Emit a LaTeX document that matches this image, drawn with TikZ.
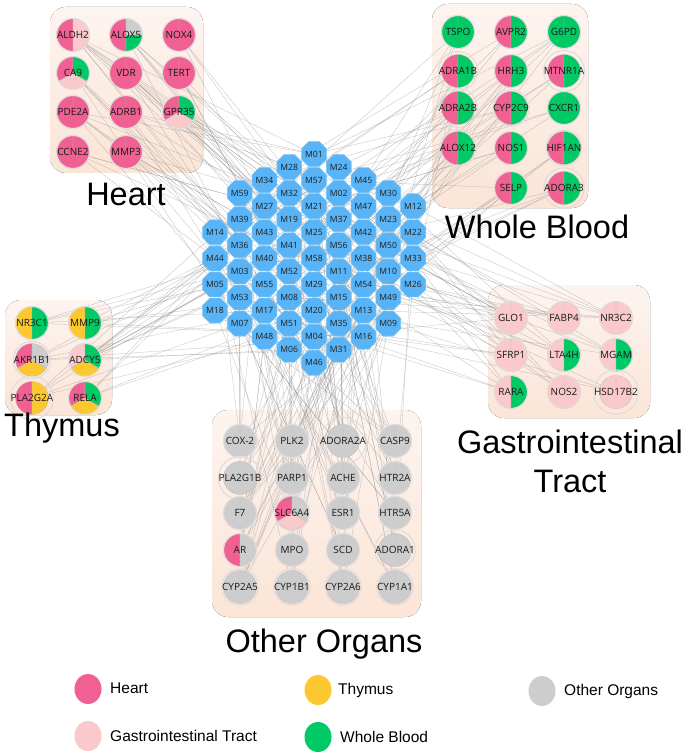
\documentclass[tikz,border=0pt]{standalone}
\usepackage{fontspec}
\setmainfont{Liberation Sans}
\newfontfamily\osans{Open Sans}
\usetikzlibrary{shapes.geometric}
\definecolor{hc}{RGB}{240,96,146}
\definecolor{gc}{RGB}{249,201,204}
\definecolor{tc}{RGB}{253,200,47}
\definecolor{wc}{RGB}{0,201,101}
\definecolor{oc}{RGB}{205,205,205}
\definecolor{mfill}{RGB}{88,180,246}
\definecolor{mdraw}{RGB}{120,195,245}
\definecolor{ringc}{RGB}{226,220,220}
\definecolor{slicec}{RGB}{190,185,185}
\definecolor{edgec}{RGB}{140,140,140}
\definecolor{ptop}{RGB}{253,244,240}
\definecolor{pbot}{RGB}{251,229,214}
\pgfdeclarelayer{bg}\pgfdeclarelayer{edges}\pgfsetlayers{bg,edges,main}
\newcommand\gnr{16.5}
\newcommand\gn[5]{%
  \gdef\gnang{90}%
  \foreach \c/\d in {#5}{%
    \filldraw[fill=\c, draw=slicec, line width=0.3pt] (#2,-#3) -- ++(\gnang:\gnr) arc[start angle=\gnang, delta angle=\d, radius=\gnr] -- cycle;
    \pgfmathsetmacro\tmpang{\gnang+\d}%
    \global\let\gnang\tmpang
  }%
  \node[gene] (#1) at (#2,-#3) {#4};%
}
\begin{document}
\begin{tikzpicture}[x=1pt,y=1pt,
  gene/.style={circle, minimum size=33, inner sep=0pt, draw=ringc, line width=1.1pt, font=\osans\fontsize{10}{11}\selectfont, text=black!90},
  mnode/.style={regular polygon, regular polygon sides=8, minimum size=24.5, inner sep=0pt, fill=mfill, draw=mdraw, line width=0.6pt, font=\osans\fontsize{8.6}{10}\selectfont, text=black!88},
  panel/.style={rounded corners=16, top color=ptop, bottom color=pbot, draw=none},
  title/.style={font=\fontsize{32.5}{36}\selectfont, anchor=base, inner sep=0pt},
  legc/.style={ellipse, minimum width=27, minimum height=30, inner sep=0pt},
  legt/.style={anchor=west, font=\fontsize{15.5}{17}\selectfont, inner sep=0pt},
  edge/.style={draw=edgec, line width=0.3pt, opacity=0.55}]
\useasboundingbox (0,0) rectangle (685,-754);
% panels
\begin{pgfonlayer}{bg}
\fill[white] (0,0) rectangle (685,-754);
\fill[panel] (50,-7) rectangle (203,-173);
\fill[panel] (432,-4) rectangle (588,-208);
\fill[panel] (5,-300) rectangle (112,-415);
\fill[panel] (488,-285) rectangle (650,-418);
\fill[panel] (212,-410) rectangle (421,-617);
\end{pgfonlayer}
% M nodes
\foreach \l [count=\i from 3] in {14,44,05,18} \node[mnode] (m\l) at (215,{-(154+26.1*\i)}) {M\l};
\foreach \l [count=\i from 1] in {59,39,36,03,53,07} \node[mnode] (m\l) at (239.75,{-(167+26.1*\i)}) {M\l};
\foreach \l [count=\i from 1] in {34,27,43,40,55,17,48} \node[mnode] (m\l) at (264.5,{-(154+26.1*\i)}) {M\l};
\foreach \l [count=\i from 0] in {28,32,19,41,52,08,51,06} \node[mnode] (m\l) at (289.25,{-(167+26.1*\i)}) {M\l};
\foreach \l [count=\i from 0] in {01,57,21,25,58,29,20,04,46} \node[mnode] (m\l) at (314,{-(154+26.1*\i)}) {M\l};
\foreach \l [count=\i from 0] in {24,02,37,56,11,15,35,31} \node[mnode] (m\l) at (338.75,{-(167+26.1*\i)}) {M\l};
\foreach \l [count=\i from 1] in {45,47,42,38,54,13,16} \node[mnode] (m\l) at (363.5,{-(154+26.1*\i)}) {M\l};
\foreach \l [count=\i from 1] in {30,23,50,10,49,09} \node[mnode] (m\l) at (388.25,{-(167+26.1*\i)}) {M\l};
\foreach \l [count=\i from 2] in {12,22,33,26} \node[mnode] (m\l) at (413,{-(154+26.1*\i)}) {M\l};
% Heart
\gn{aldh2}{73}{35}{ALDH2}{hc/180,gc/180}
\gn{alox5}{126}{35}{ALOX5}{hc/180,wc/90,oc/90}
\gn{nox4}{179}{35}{NOX4}{hc/360}
\gn{ca9}{73}{73}{CA9}{hc/120,gc/120,wc/120}
\gn{vdr}{126}{73}{VDR}{hc/360}
\gn{tert}{179}{73}{TERT}{hc/360}
\gn{pde2a}{73}{112}{PDE2A}{hc/360}
\gn{adrb1}{126}{112}{ADRB1}{hc/360}
\gn{gpr35}{179}{112}{GPR35}{hc/120,gc/120,wc/120}
\gn{ccne2}{73}{152}{CCNE2}{hc/360}
\gn{mmp3}{126}{152}{MMP3}{hc/360}
% Whole Blood
\gn{tspo}{458}{32}{TSPO}{wc/360}
\gn{avpr2}{511}{32}{AVPR2}{hc/180,wc/180}
\gn{g6pd}{564}{32}{G6PD}{wc/360}
\gn{adra1b}{458}{71}{ADRA1B}{hc/180,wc/180}
\gn{hrh3}{511}{71}{HRH3}{hc/180,wc/180}
\gn{mtnr1a}{564}{71}{MTNR1A}{hc/180,wc/180}
\gn{adra2b}{458}{108}{ADRA2B}{hc/180,wc/180}
\gn{cyp2c9}{511}{108}{CYP2C9}{hc/180,wc/180}
\gn{cxcr1}{564}{108}{CXCR1}{wc/360}
\gn{alox12}{458}{148}{ALOX12}{hc/180,wc/180}
\gn{nos1}{511}{148}{NOS1}{hc/180,wc/180}
\gn{hif1an}{564}{148}{HIF1AN}{hc/180,wc/180}
\gn{selp}{511}{188}{SELP}{hc/180,wc/180}
\gn{adora3}{564}{188}{ADORA3}{hc/180,wc/180}
% Thymus
\gn{nr3c1}{32}{323}{NR3C1}{tc/180,wc/180}
\gn{mmp9}{85}{323}{MMP9}{tc/180,wc/180}
\gn{akr1b1}{32}{360}{AKR1B1}{hc/120,tc/120,oc/120}
\gn{adcy5}{85}{360}{ADCY5}{gc/120,tc/120,wc/120}
\gn{pla2g2a}{32}{398}{PLA2G2A}{hc/180,tc/180}
\gn{rela}{85}{398}{RELA}{hc/120,tc/120,wc/120}
% Gastrointestinal Tract
\gn{glo1}{511}{318}{GLO1}{gc/360}
\gn{fabp4}{564}{318}{FABP4}{gc/360}
\gn{nr3c2}{616}{318}{NR3C2}{gc/360}
\gn{sfrp1}{511}{355}{SFRP1}{gc/360}
\gn{lta4h}{564}{355}{LTA4H}{gc/180,wc/180}
\gn{mgam}{616}{355}{MGAM}{gc/180,wc/180}
\gn{rara}{511}{392}{RARA}{gc/180,wc/180}
\gn{nos2}{564}{392}{NOS2}{gc/360}
\gn{hsd17b2}{616}{392}{HSD17B2}{gc/360}
% Other Organs
\gn{cox2}{240}{441}{COX-2}{oc/360}
\gn{plk2}{292}{441}{PLK2}{oc/360}
\gn{adora2a}{343}{441}{ADORA2A}{oc/360}
\gn{casp9}{395}{441}{CASP9}{oc/360}
\gn{pla2g1b}{240}{478}{PLA2G1B}{oc/360}
\gn{parp1}{292}{478}{PARP1}{oc/360}
\gn{ache}{343}{478}{ACHE}{oc/360}
\gn{htr2a}{395}{478}{HTR2A}{oc/360}
\gn{f7}{240}{513}{F7}{oc/360}
\gn{slc6a4}{292}{513}{SLC6A4}{hc/120,gc/120,oc/120}
\gn{esr1}{343}{513}{ESR1}{oc/360}
\gn{htr5a}{395}{513}{HTR5A}{oc/360}
\gn{ar}{240}{550}{AR}{hc/180,oc/180}
\gn{mpo}{292}{550}{MPO}{oc/360}
\gn{scd}{343}{550}{SCD}{oc/360}
\gn{adora1}{395}{550}{ADORA1}{oc/360}
\gn{cyp2a5}{240}{587}{CYP2A5}{oc/360}
\gn{cyp1b1}{292}{587}{CYP1B1}{oc/360}
\gn{cyp2a6}{343}{587}{CYP2A6}{oc/360}
\gn{cyp1a1}{395}{587}{CYP1A1}{oc/360}
% edges
\pgfmathsetseed{7}
\begin{pgfonlayer}{edges}
\foreach \g/\k in {aldh2/9,alox5/6,nox4/3,ca9/5,vdr/6,tert/3,pde2a/6,adrb1/5,gpr35/6,ccne2/4,mmp3/5,
  tspo/4,avpr2/3,g6pd/5,adra1b/5,hrh3/4,mtnr1a/3,adra2b/5,cyp2c9/5,cxcr1/3,alox12/5,nos1/4,hif1an/3,selp/3,adora3/4,
  nr3c1/5,mmp9/4,akr1b1/5,adcy5/10,pla2g2a/5,rela/4,
  glo1/6,fabp4/5,nr3c2/7,sfrp1/5,lta4h/5,mgam/4,rara/5,nos2/4,hsd17b2/3,
  cox2/5,plk2/4,adora2a/8,casp9/5,pla2g1b/5,parp1/4,ache/6,htr2a/6,f7/6,slc6a4/6,esr1/5,htr5a/4,ar/8,mpo/4,scd/4,adora1/5,cyp2a5/8,cyp1b1/4,cyp2a6/5,cyp1a1/4}{
  \foreach \i in {1,...,\k}{
    \pgfmathtruncatemacro\rr{random(1,59)}
    \ifnum\rr<10 \edef\rr{0\rr}\fi
    \draw[edge] (\g.center) -- (m\rr.center);
  }
}
\end{pgfonlayer}
% titles
\node[title] (tHeart) at (126,-205) {Heart};
\node[title] (tBlood) at (537,-238) {Whole Blood};
\node[title] (tThymus) at (62,-436) {Thymus};
\node[title] (tGI1) at (570,-453) {Gastrointestinal};
\node[title] (tGI2) at (570,-492) {Tract};
\node[title] (tOther) at (324,-652) {Other Organs};
% legend
\node[legc, fill=hc] (lh) at (88,-689) {};
\node[legt] (lht) at (110,-688) {Heart};
\node[legc, fill=gc] (lg) at (88,-736) {};
\node[legt] (lgt) at (110,-736) {Gastrointestinal Tract};
\node[legc, fill=tc] (lt) at (318,-690) {};
\node[legt] (ltt) at (338,-690) {Thymus};
\node[legc, fill=wc] (lw) at (318,-737) {};
\node[legt] (lwt) at (340,-737) {Whole Blood};
\node[legc, fill=oc] (lo) at (542,-691) {};
\node[legt] (lot) at (564,-691) {Other Organs};
\end{tikzpicture}
\end{document}
